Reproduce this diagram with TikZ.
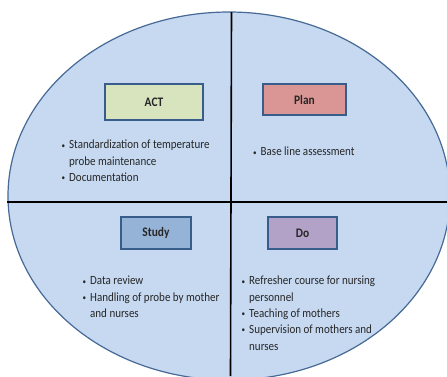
\documentclass[tikz,border=0pt]{standalone}
\usepackage{fontspec}
\setmainfont{Carlito}[FakeStretch=0.88]
\definecolor{ovalFill}{RGB}{198,217,241}
\definecolor{ovalLine}{RGB}{70,105,150}
\definecolor{boxLine}{RGB}{56,93,138}
\definecolor{actFill}{RGB}{215,228,189}
\definecolor{planFill}{RGB}{217,150,148}
\definecolor{studyFill}{RGB}{149,179,215}
\definecolor{doFill}{RGB}{179,162,199}
\definecolor{textColor}{RGB}{38,38,38}

\tikzset{
  phasebox/.style={draw=boxLine, line width=1.2pt, inner sep=0pt,
    font=\fontsize{13}{15}\selectfont\bfseries, text=textColor},
  notes/.style={anchor=north west, inner sep=0pt, align=left,
    font=\fontsize{12.5}{16.3}\selectfont, text=textColor},
  axisline/.style={line width=1.6pt, black}
}
\newcommand{\bul}{\makebox[7.5pt][l]{\raisebox{0.8pt}{\fontsize{8}{8}\selectfont\textbullet}}}
\newcommand{\hang}{\hspace*{7.5pt}}

\begin{document}
\begin{tikzpicture}[x=1pt, y=-1pt]
  \useasboundingbox (0,0) rectangle (447,376);
  \clip (0,0) rectangle (447,376);

  % Fondo: el ovalo
  \filldraw[fill=ovalFill, draw=ovalLine, line width=1.2pt]
    (229,196) ellipse [x radius=221, y radius=184];

  % Ejes que dividen en cuatro
  \coordinate (W) at (7,202);
  \coordinate (E) at (447,202);
  \coordinate (N) at (231.5,12);
  \coordinate (S) at (230.5,376);
  \draw[axisline] (W) -- (E);
  \draw[axisline] (N) -- (S);

  % Cuadrante superior izquierdo
  \node[phasebox, fill=actFill, minimum width=98, minimum height=36] (act) at (154,102) {ACT};
  \node[notes] (actNotes) at (61.5,140) {%
    \bul Standardization of temperature\\
    \hang probe maintenance\\
    \bul Documentation};

  % Cuadrante superior derecho
  \node[phasebox, fill=planFill, minimum width=83, minimum height=31] (plan) at (304.5,99.5) {Plan};
  \node[notes] (planNotes) at (253,147) {\bul Base line assessment};

  % Cuadrante inferior izquierdo
  \node[phasebox, fill=studyFill, minimum width=70, minimum height=32] (study) at (156,233) {Study};
  \node[notes] (studyNotes) at (82.5,276) {%
    \bul Data review\\
    \bul Handling of probe by mother\\
    \hang and nurses};

  % Cuadrante inferior derecho
  \node[phasebox, fill=doFill, minimum width=69, minimum height=32] (do) at (302.5,233) {Do};
  \node[notes] (doNotes) at (241.5,276) {%
    \bul Refresher course for nursing\\
    \hang personnel\\
    \bul Teaching of mothers\\
    \bul Supervision of mothers and\\
    \hang nurses};
\end{tikzpicture}
\end{document}
